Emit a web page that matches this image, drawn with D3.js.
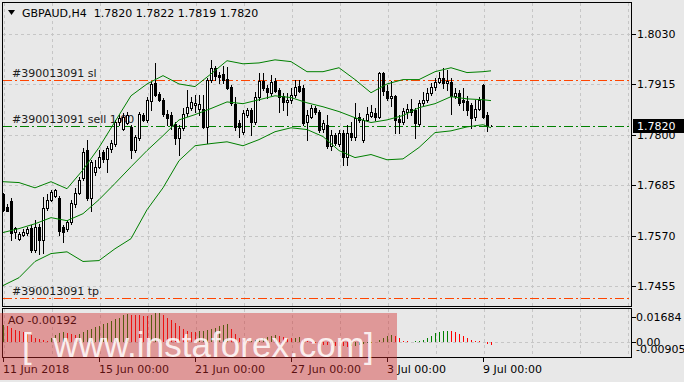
<!DOCTYPE html>
<html>
<head>
<meta charset="utf-8">
<script src="https://cdn.jsdelivr.net/npm/d3@7"></script>
<style>
  html, body { margin: 0; padding: 0; background: #e8e8e8; }
  svg { display: block; font-family: "DejaVu Sans", Verdana, sans-serif; font-size: 11px; }
  text { white-space: pre; }
</style>
</head>
<body>
<svg id="chart" width="684" height="382"></svg>
<script>
// GBPAUD H4 candles, one value per bar (11 Jun 2018 00:00 .. 9 Jul 04:00)
const open = [1.7664,1.7636,1.7648,1.7579,1.7563,1.7572,1.7577,1.7588,1.7538,1.7590,1.7561,1.7632,1.7652,1.7660,1.7655,1.7590,1.7586,1.7602,1.7641,1.7668,
  1.7702,1.7766,1.7655,1.7716,1.7727,1.7761,1.7745,1.7768,1.7780,1.7830,1.7814,1.7828,1.7818,1.7766,1.7793,1.7846,1.7834,1.7878,1.7919,1.7894,
  1.7880,1.7848,1.7846,1.7825,1.7793,1.7816,1.7850,1.7862,1.7869,1.7860,1.7860,1.7818,1.7926,1.7953,1.7937,1.7939,1.7928,1.7910,1.7871,1.7828,
  1.7807,1.7846,1.7857,1.7830,1.7887,1.7923,1.7907,1.7896,1.7923,1.7903,1.7889,1.7875,1.7880,1.7891,1.7912,1.7907,1.7830,1.7841,1.7862,1.7853,
  1.7814,1.7823,1.7775,1.7800,1.7780,1.7805,1.7750,1.7805,1.7796,1.7841,1.7787,1.7834,1.7844,1.7850,1.7841,1.7942,1.7901,1.7885,1.7889,1.7837,
  1.7830,1.7853,1.7860,1.7857,1.7825,1.7873,1.7880,1.7896,1.7910,1.7921,1.7930,1.7919,1.7921,1.7889,1.7896,1.7880,1.7878,1.7869,1.7841,1.7860,
  1.7914,1.7846,1.7820];
const high = [1.7668,1.7641,1.7655,1.7590,1.7579,1.7584,1.7590,1.7595,1.7606,1.7597,1.7659,1.7664,1.7675,1.7677,1.7660,1.7595,1.7606,1.7652,1.7679,1.7704,
  1.7771,1.7789,1.7743,1.7743,1.7766,1.7766,1.7775,1.7789,1.7834,1.7846,1.7850,1.7853,1.7823,1.7800,1.7853,1.7850,1.7887,1.7921,1.7964,1.7898,
  1.7885,1.7857,1.7853,1.7830,1.7823,1.7862,1.7903,1.7887,1.7891,1.7891,1.7891,1.7930,1.7971,1.7958,1.7944,1.7958,1.7955,1.7914,1.7887,1.7834,
  1.7857,1.7862,1.7862,1.7898,1.7942,1.7942,1.7914,1.7937,1.7930,1.7907,1.7896,1.7896,1.7907,1.7926,1.7926,1.7914,1.7857,1.7869,1.7866,1.7857,
  1.7834,1.7846,1.7812,1.7805,1.7812,1.7812,1.7823,1.7830,1.7873,1.7850,1.7839,1.7864,1.7869,1.7862,1.7944,1.7944,1.7914,1.7923,1.7891,1.7846,
  1.7862,1.7871,1.7882,1.7862,1.7880,1.7898,1.7907,1.7919,1.7930,1.7944,1.7953,1.7948,1.7930,1.7907,1.7903,1.7907,1.7889,1.7873,1.7880,1.7887,
  1.7916,1.7853,1.7822];
const low = [1.7625,1.7625,1.7561,1.7565,1.7561,1.7568,1.7572,1.7533,1.7533,1.7527,1.7531,1.7629,1.7650,1.7657,1.7572,1.7556,1.7581,1.7597,1.7636,1.7664,
  1.7698,1.7652,1.7625,1.7709,1.7725,1.7739,1.7714,1.7761,1.7775,1.7823,1.7812,1.7825,1.7748,1.7761,1.7789,1.7832,1.7830,1.7857,1.7889,1.7878,
  1.7844,1.7823,1.7814,1.7780,1.7755,1.7812,1.7844,1.7857,1.7853,1.7846,1.7816,1.7782,1.7921,1.7926,1.7919,1.7919,1.7905,1.7869,1.7812,1.7796,
  1.7802,1.7841,1.7800,1.7825,1.7880,1.7903,1.7885,1.7891,1.7898,1.7853,1.7857,1.7846,1.7873,1.7887,1.7898,1.7823,1.7789,1.7839,1.7848,1.7807,
  1.7807,1.7771,1.7766,1.7777,1.7775,1.7732,1.7732,1.7789,1.7789,1.7830,1.7784,1.7832,1.7841,1.7834,1.7839,1.7891,1.7880,1.7866,1.7805,1.7805,
  1.7825,1.7839,1.7846,1.7793,1.7821,1.7869,1.7875,1.7891,1.7903,1.7919,1.7907,1.7903,1.7848,1.7885,1.7869,1.7857,1.7846,1.7816,1.7834,1.7857,
  1.7839,1.7809,1.7819];
const close = [1.7629,1.7627,1.7577,1.7588,1.7574,1.7579,1.7584,1.7538,1.7590,1.7561,1.7634,1.7652,1.7670,1.7673,1.7581,1.7579,1.7602,1.7645,1.7668,1.7698,
  1.7761,1.7655,1.7739,1.7727,1.7750,1.7745,1.7771,1.7782,1.7830,1.7839,1.7841,1.7846,1.7766,1.7796,1.7848,1.7834,1.7880,1.7916,1.7891,1.7880,
  1.7848,1.7839,1.7823,1.7793,1.7816,1.7848,1.7864,1.7875,1.7873,1.7871,1.7818,1.7926,1.7953,1.7935,1.7932,1.7926,1.7907,1.7873,1.7818,1.7818,
  1.7850,1.7857,1.7830,1.7887,1.7923,1.7907,1.7898,1.7921,1.7901,1.7887,1.7875,1.7880,1.7891,1.7910,1.7901,1.7828,1.7846,1.7862,1.7853,1.7812,
  1.7828,1.7775,1.7800,1.7782,1.7805,1.7750,1.7805,1.7796,1.7839,1.7834,1.7834,1.7848,1.7853,1.7841,1.7942,1.7901,1.7885,1.7889,1.7834,1.7830,
  1.7855,1.7860,1.7853,1.7828,1.7873,1.7880,1.7896,1.7910,1.7921,1.7930,1.7919,1.7923,1.7889,1.7896,1.7873,1.7875,1.7857,1.7839,1.7860,1.7880,
  1.7841,1.7820,1.7820];

// Bollinger bands, read every 4th bar
const bandBars = [0,4,8,12,16,20,24,28,32,36,40,44,48,52,56,60,64,68,72,76,80,84,88,92,96,100,104,108,112,116,120,122];
const bandUpper = [1.7693,1.7691,1.7679,1.7693,1.7677,1.7720,1.7771,1.7830,1.7889,1.7916,1.7935,1.7916,1.7910,1.7939,1.7969,1.7962,
  1.7964,1.7971,1.7967,1.7944,1.7944,1.7953,1.7926,1.7896,1.7916,1.7926,1.7926,1.7944,1.7953,1.7942,1.7944,1.7946];
const bandMiddle = [1.7577,1.7586,1.7597,1.7611,1.7604,1.7620,1.7652,1.7689,1.7727,1.7764,1.7798,1.7834,1.7846,1.7860,1.7875,1.7871,
  1.7880,1.7889,1.7885,1.7873,1.7864,1.7853,1.7839,1.7828,1.7834,1.7844,1.7862,1.7871,1.7887,1.7882,1.7880,1.7878];
const bandLower = [1.7456,1.7474,1.7511,1.7529,1.7533,1.7511,1.7513,1.7540,1.7563,1.7629,1.7679,1.7741,1.7775,1.7780,1.7784,1.7775,
  1.7789,1.7807,1.7816,1.7812,1.7796,1.7764,1.7748,1.7755,1.7743,1.7745,1.7771,1.7805,1.7809,1.7818,1.7823,1.7816];

// Awesome Oscillator, one value per bar
const ao = [0.0112,0.0106,0.0097,0.0083,0.0074,0.0065,0.0056,0.0045,0.0029,0.0018,0.0011,0.0010,0.0029,0.0045,0.0058,0.0065,0.0060,0.0052,0.0048,0.0055,
  0.0066,0.0078,0.0088,0.0098,0.0108,0.0118,0.0128,0.0140,0.0152,0.0165,0.0180,0.0186,0.0184,0.0182,0.0180,0.0177,0.0175,0.0185,0.0192,0.0196,
  0.0180,0.0164,0.0146,0.0128,0.0106,0.0088,0.0074,0.0070,0.0067,0.0072,0.0076,0.0083,0.0090,0.0097,0.0106,0.0115,0.0119,0.0090,0.0056,0.0029,
  0.0016,0.0007,0.0009,0.0012,0.0018,0.0025,0.0032,0.0040,0.0045,0.0040,0.0035,0.0030,0.0027,0.0029,0.0031,0.0020,0.0008,-0.0004,-0.0010,-0.0014,
  -0.0018,-0.0021,-0.0024,-0.0026,-0.0028,-0.0030,-0.0031,-0.0030,-0.0025,-0.0020,-0.0015,-0.0010,-0.0004,0.0003,0.0011,0.0024,0.0038,0.0045,0.0040,0.0028,
  0.0010,0.0005,0.0003,0.0004,0.0008,0.0013,0.0025,0.0038,0.0058,0.0065,0.0072,0.0076,0.0072,0.0065,0.0054,0.0040,0.0029,0.0011,0.0007,0.0005,
  0.0002,-0.0013,-0.00192];

const priceTicks = [1.8030, 1.7915, 1.7800, 1.7685, 1.7570, 1.7455];
const aoTicks = [0.01684, 0.00, -0.00905];
const dateBars = [0, 24, 48, 72, 96, 120];
const dateLabels = ["11 Jun 2018", "15 Jun 00:00", "21 Jun 00:00", "27 Jun 00:00", "3 Jul 00:00", "9 Jul 00:00"];

const orderId = "#390013091";
const orders = [
  { label: orderId + " sl", price: 1.7926, color: "#ff4500" },
  { label: orderId + " sell 1.00", price: 1.7819, color: "#008000" },
  { label: orderId + " tp", price: 1.7427, color: "#ff4500" }
];
const lastPrice = 1.7820;

const svg = d3.select("#chart");
const crisp = v => Math.round(v) + 0.5;

// Panels
const main = { left: 2, right: 631, top: 2, bottom: 306 };
const sub = { left: 2, right: 631, top: 308, bottom: 357 };

const x = d3.scaleLinear().domain([0, 122]).range([3, 491]);
const y = d3.scaleLinear().domain([1.7455, 1.8030]).range([286, 34]);
const yAo = d3.scaleLinear().domain([0, 0.01684]).range([342, 317]);

svg.append("rect").attr("width", 684).attr("height", 382).attr("fill", "#e8e8e8");

// Grid
const grid = svg.append("g").attr("stroke", "#c6c6c6").attr("stroke-dasharray", "3,3");
const gridBars = d3.range(0, 157, 12);
grid.selectAll(".vm").data(gridBars).enter().append("line")
  .attr("x1", d => crisp(x(d) + 1)).attr("x2", d => crisp(x(d) + 1))
  .attr("y1", main.top + 1).attr("y2", main.bottom);
grid.selectAll(".vs").data(gridBars).enter().append("line")
  .attr("x1", d => crisp(x(d) + 1)).attr("x2", d => crisp(x(d) + 1))
  .attr("y1", sub.top + 1).attr("y2", sub.bottom);
grid.selectAll(".h").data(priceTicks).enter().append("line")
  .attr("x1", main.left + 1).attr("x2", main.right)
  .attr("y1", d => crisp(y(d))).attr("y2", d => crisp(y(d)));
grid.append("line")
  .attr("x1", sub.left + 1).attr("x2", sub.right)
  .attr("y1", crisp(yAo(0))).attr("y2", crisp(yAo(0)));

// Order lines and their labels (candles drawn over them)
const ord = svg.append("g");
ord.selectAll("line").data(orders).enter().append("line")
  .attr("x1", main.left + 1).attr("x2", main.right)
  .attr("y1", d => crisp(y(d.price))).attr("y2", d => crisp(y(d.price)))
  .attr("stroke", d => d.color).attr("stroke-dasharray", "9,3,2,3");
ord.selectAll("text").data(orders).enter().append("text")
  .attr("x", 12).attr("y", d => Math.round(y(d.price)) - 3)
  .attr("fill", "#202020").text(d => d.label);

// Candles
const idx = d3.range(open.length);
const candles = svg.append("g");
candles.selectAll("line").data(idx).enter().append("line")
  .attr("x1", i => Math.round(x(i)) + 0.5).attr("x2", i => Math.round(x(i)) + 0.5)
  .attr("y1", i => Math.round(y(high[i]))).attr("y2", i => Math.round(y(low[i])) + 1)
  .attr("stroke", "#000");
candles.selectAll("rect").data(idx).enter().append("rect")
  .attr("x", i => Math.round(x(i)) - 0.5)
  .attr("y", i => Math.round(y(Math.max(open[i], close[i]))) + 0.5)
  .attr("width", 2)
  .attr("height", i => Math.max(0, Math.round(y(Math.min(open[i], close[i]))) - Math.round(y(Math.max(open[i], close[i])))))
  .attr("fill", i => close[i] < open[i] ? "#000" : "#fff")
  .attr("stroke", "#000");

// Bollinger bands
const bandLine = vals => d3.line()
  .x((d, k) => x(bandBars[k]))
  .y(d => y(d))(vals);
svg.append("g").selectAll("path").data([bandUpper, bandMiddle, bandLower]).enter().append("path")
  .attr("d", bandLine).attr("fill", "none").attr("stroke", "#008000").attr("stroke-width", 1);

// Awesome Oscillator histogram
svg.append("g").selectAll("line").data(ao).enter().append("line")
  .attr("x1", (d, i) => Math.round(x(i)) + 0.5).attr("x2", (d, i) => Math.round(x(i)) + 0.5)
  .attr("y1", Math.round(yAo(0)))
  .attr("y2", d => Math.round(yAo(d)))
  .attr("stroke", (d, i) => (i === 0 || d > ao[i - 1]) ? "#008000" : "#ff0000");

// Frames
svg.append("rect").attr("x", main.left + 0.5).attr("y", main.top + 0.5)
  .attr("width", main.right - main.left).attr("height", main.bottom - main.top)
  .attr("fill", "none").attr("stroke", "#000");
svg.append("rect").attr("x", sub.left + 0.5).attr("y", sub.top + 0.5)
  .attr("width", sub.right - sub.left).attr("height", sub.bottom - sub.top)
  .attr("fill", "none").attr("stroke", "#000");

// Price axis
const axis = svg.append("g").attr("fill", "#000");
axis.selectAll("line.p").data(priceTicks).enter().append("line")
  .attr("x1", main.right + 1).attr("x2", main.right + 5)
  .attr("y1", d => crisp(y(d))).attr("y2", d => crisp(y(d))).attr("stroke", "#000");
axis.selectAll("text.p").data(priceTicks).enter().append("text")
  .attr("x", 637).attr("y", d => Math.round(y(d)) + 4).text(d => d.toFixed(4));

// AO axis
axis.selectAll("line.a").data(aoTicks.slice(0, 2)).enter().append("line")
  .attr("x1", sub.right + 1).attr("x2", sub.right + 5)
  .attr("y1", d => crisp(yAo(d))).attr("y2", d => crisp(yAo(d))).attr("stroke", "#000");
axis.selectAll("text.a").data(aoTicks).enter().append("text")
  .attr("x", 636).attr("y", d => Math.min(Math.round(yAo(d)), 349) + 4)
  .text(d => d === 0 ? "0.00" : d.toFixed(5));

// Date axis
axis.selectAll("line.d").data(dateBars).enter().append("line")
  .attr("x1", d => crisp(x(d))).attr("x2", d => crisp(x(d)))
  .attr("y1", sub.bottom + 1).attr("y2", sub.bottom + 5).attr("stroke", "#000");
axis.selectAll("text.d").data(dateBars).enter().append("text")
  .attr("x", d => Math.round(x(d))).attr("y", 373)
  .text((d, k) => dateLabels[k]);

// Current price tag
const tagY = Math.round(y(lastPrice));
svg.append("rect").attr("x", 633).attr("y", tagY - 7).attr("width", 51).attr("height", 14).attr("fill", "#000");
svg.append("text").attr("x", 637).attr("y", tagY + 4).attr("fill", "#fff").text(lastPrice.toFixed(4));

// Header and indicator label
svg.append("path").attr("d", "M8,10 L15,10 L11.5,15 Z").attr("fill", "#000");
svg.append("text").attr("x", 22).attr("y", 17).attr("fill", "#000")
  .text("GBPAUD,H4  " + [open[122], high[122], low[122], close[122]].map(v => v.toFixed(4)).join(" "));
svg.append("text").attr("x", 8).attr("y", 324).attr("fill", "#000")
  .text("AO " + ao[ao.length - 1].toFixed(5));

// Watermark
const wm = svg.append("g");
wm.append("rect").attr("x", 0).attr("y", 313).attr("width", 397).attr("height", 67)
  .attr("fill", "rgba(210,40,40,0.42)");
const wmText = wm.append("g").attr("fill", "rgba(255,255,255,0.85)")
  .style("font-family", "'Liberation Sans', Arial, sans-serif").style("font-size", "35px");
wmText.append("text").attr("x", 22).attr("y", 358).text("[");
wmText.append("text").attr("x", 53).attr("y", 357)
  .attr("textLength", 312).attr("lengthAdjust", "spacing").text("www.instaforex.com");
wmText.append("text").attr("x", 364).attr("y", 358).text("]");
</script>
</body>
</html>
